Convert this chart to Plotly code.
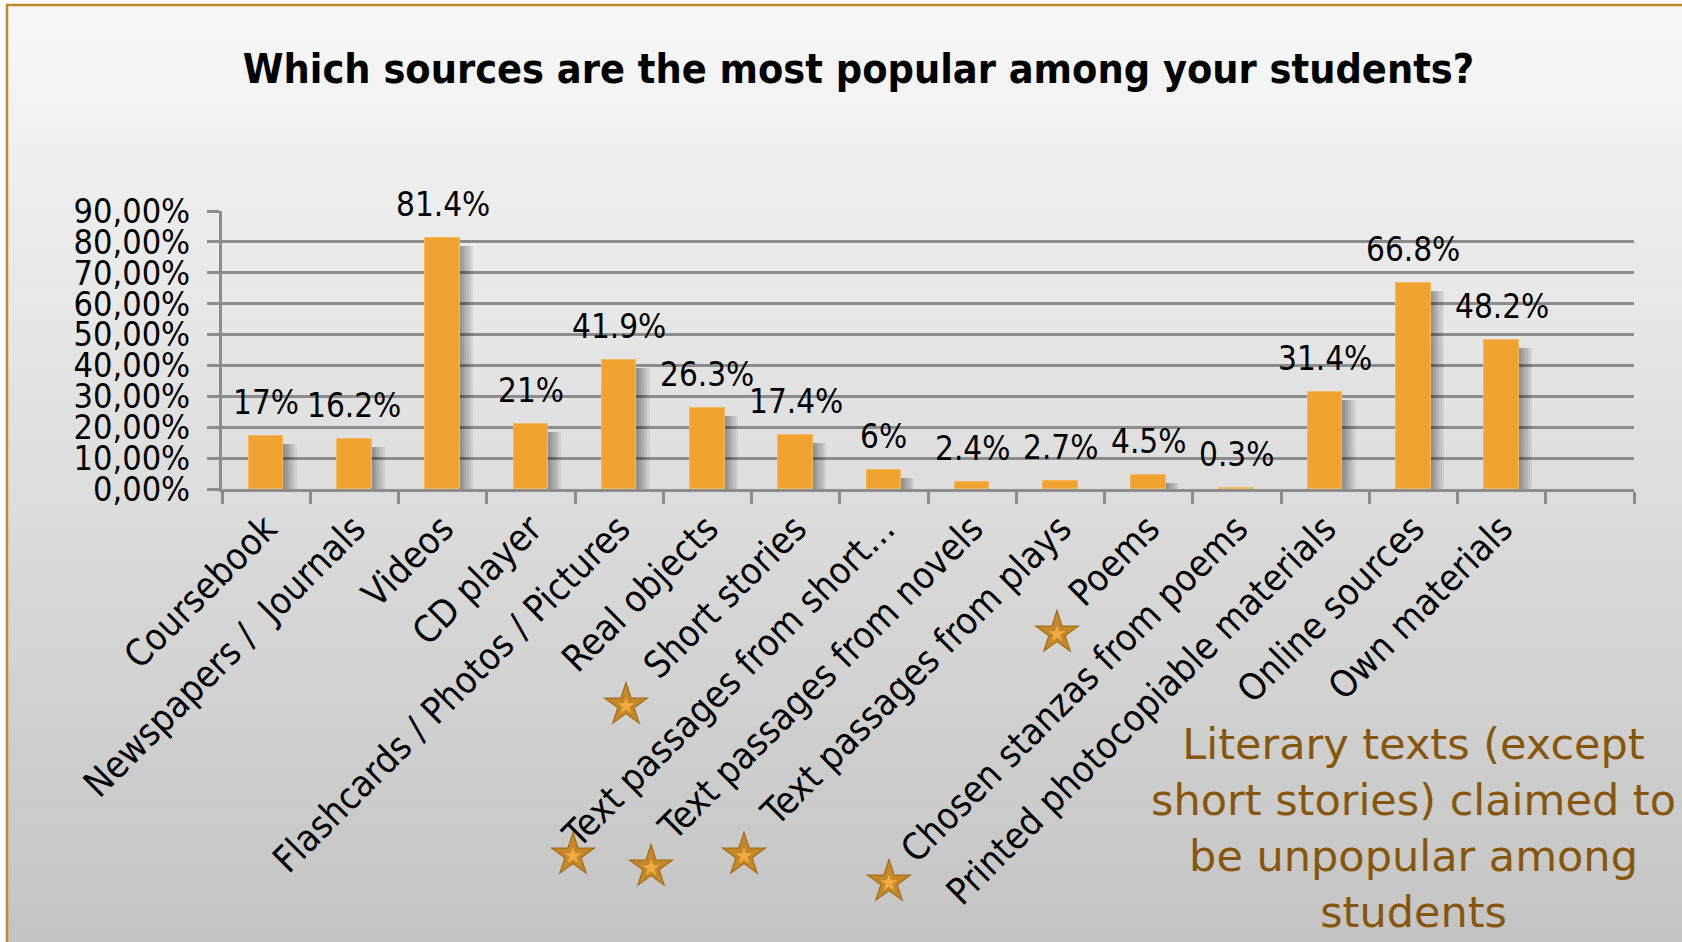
import numpy as np
import plotly.graph_objects as go

# ---------------- data ----------------
categories = [
    "Coursebook", "Newspapers /  Journals", "Videos", "CD player",
    "Flashcards / Photos / Pictures", "Real objects", "Short stories",
    "Text passages from short…", "Text passages from novels",
    "Text passages from plays", "Poems", "Chosen stanzas from poems",
    "Printed photocopiable materials", "Online sources", "Own materials",
]
percent_values = [17, 16.2, 81.4, 21, 41.9, 26.3, 17.4, 6, 2.4, 2.7, 4.5, 0.3, 31.4, 66.8, 48.2]
value_labels = ["17%", "16.2%", "81.4%", "21%", "41.9%", "26.3%", "17.4%", "6%",
                "2.4%", "2.7%", "4.5%", "0.3%", "31.4%", "66.8%", "48.2%"]
y_ticks = [0, 0.1, 0.2, 0.3, 0.4, 0.5, 0.6, 0.7, 0.8, 0.9]
empty_slot = [" "]
title_text = "Which sources are the most popular among your students?"
note_lines = ["Literary texts (except", "short stories) claimed to", "be unpopular among", "students"]

# ---------------- geometry / style ----------------
W, H = 1682, 942
ML, MR, MT, MB = 222, 48, 211, 453
PW, PH = W - ML - MR, H - MT - MB
n_slots = len(categories) + len(empty_slot)
px_per_cat = PW / n_slots


def fx(x):
    return (x - ML) / PW


def fy(y):
    return (H - MB - y) / PH


fractions = np.array(percent_values) / 100.0
bar_w = 0.39
bar_color = "#F0A330"
grid_color = "#8C8C8C"
num_font = "DejaVu Sans Condensed"

fig = go.Figure()

# soft shadow to the right of each bar
shadow_y = np.clip(fractions - 8 * 0.9 / PH, 0, None)
for k in range(1, 7):
    fig.add_trace(go.Bar(
        x=categories, y=shadow_y, width=bar_w,
        offset=-bar_w / 2 + k * 2.2 / px_per_cat,
        marker=dict(color="rgba(0,0,0,0.065)", line=dict(width=0)),
        hoverinfo="skip", showlegend=False,
    ))

fig.add_trace(go.Bar(
    x=categories, y=fractions, width=bar_w, offset=-bar_w / 2,
    marker=dict(color=bar_color, line=dict(width=1, color="#F5B85A")),
    showlegend=False,
))

# value labels
for c, v, t in zip(categories, fractions, value_labels):
    fig.add_annotation(x=c, y=v, text=t, showarrow=False, yanchor="bottom",
                       xanchor="center", yshift=12,
                       font=dict(family=num_font, size=33, color="black"))

# background gradient + border
shapes = []
band = 20
y0 = 5
while y0 < H:
    y1 = min(y0 + band, H)
    g = int(round(248 - 52 * ((y0 + y1) / 2) / H))
    shapes.append(dict(type="rect", xref="paper", yref="paper",
                       x0=fx(7), x1=fx(W + 5), y0=fy(y1 + 1), y1=fy(y0),
                       fillcolor=f"rgb({g},{g},{g})", line=dict(width=0), layer="below"))
    y0 = y1
shapes.append(dict(type="rect", xref="paper", yref="paper",
                   x0=fx(7), x1=fx(W + 20), y0=fy(H + 20), y1=fy(5),
                   fillcolor="rgba(0,0,0,0)", line=dict(color="#BC8A2C", width=2.5),
                   layer="above"))


def star_path(cx, cy, R, ratio=0.382):
    pts = []
    for i in range(10):
        ang = np.pi / 2 + i * np.pi / 5
        r = R if i % 2 == 0 else R * ratio
        pts.append((cx + r * np.cos(ang), cy - r * np.sin(ang)))
    d = "M " + " L ".join(f"{fx(px):.5f},{fy(py):.5f}" for px, py in pts) + " Z"
    return d


star_centres = [(626, 705), (573, 855), (651, 867), (744, 855), (1057, 633), (889, 882)]
for cx, cy in star_centres:
    shapes.append(dict(type="path", xref="paper", yref="paper", path=star_path(cx, cy, 22.5),
                       fillcolor="#C4882A", line=dict(color="#A36F17", width=1.2), layer="above"))
    shapes.append(dict(type="path", xref="paper", yref="paper", path=star_path(cx, cy + 1, 9),
                       fillcolor="#F3AC40", line=dict(width=0), layer="above"))

fig.add_annotation(xref="paper", yref="paper", x=fx(1413), y=fy(828),
                   xanchor="center", yanchor="middle", showarrow=False,
                   text="<br>".join(note_lines), align="center",
                   font=dict(family="DejaVu Sans", size=43, color="#86560C"))

fig.update_layout(
    width=W, height=H,
    margin=dict(l=ML, r=MR, t=MT, b=MB, pad=0),
    paper_bgcolor="white", plot_bgcolor="rgba(0,0,0,0)",
    barmode="overlay", bargap=0,
    separators=",.",
    shapes=shapes,
    title=dict(text="<b>" + title_text + "</b>", x=858.5 / W, xref="container", xanchor="center",
               y=1 - 54 / H, yref="container", yanchor="top",
               font=dict(family="DejaVu Sans Condensed", size=41, color="black")),
    xaxis=dict(
        type="category", categoryorder="array", categoryarray=categories + empty_slot,
        range=[-0.5, n_slots - 0.5], tickson="boundaries",
        ticks="outside", ticklen=12, tickwidth=2.5, tickcolor=grid_color,
        showline=True, linecolor=grid_color, linewidth=3,
        showgrid=False, tickangle=-45,
        tickfont=dict(family="DejaVu Sans Condensed", size=37, color="black"),
    ),
    yaxis=dict(
        range=[0, 0.9], tickvals=y_ticks, tickformat=".2%",
        ticks="outside", ticklen=12, tickwidth=2.5, tickcolor=grid_color,
        showline=True, linecolor=grid_color, linewidth=3,
        showgrid=True, gridcolor=grid_color, gridwidth=2.5, zeroline=False,
        tickfont=dict(family=num_font, size=34, color="black"),
        ticklabelstandoff=10,
    ),
)

fig.write_html("out.html", config={"displayModeBar": False},
               post_script="document.body.style.margin='0';")
